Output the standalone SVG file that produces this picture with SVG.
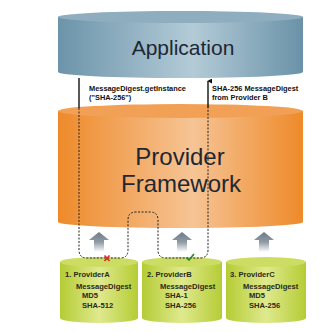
<svg xmlns="http://www.w3.org/2000/svg" width="335" height="332" viewBox="0 0 335 332">
<defs>
<linearGradient id="gBlue" x1="0" y1="0" x2="1" y2="0">
<stop offset="0" stop-color="#6c94aa"/>
<stop offset="0.55" stop-color="#b3cbd7"/>
<stop offset="1" stop-color="#6a92a8"/>
</linearGradient>
<linearGradient id="gOrange" x1="0" y1="0" x2="1" y2="0">
<stop offset="0" stop-color="#ee8a2a"/>
<stop offset="0.55" stop-color="#f6c495"/>
<stop offset="1" stop-color="#ee8a2a"/>
</linearGradient>
<linearGradient id="gGreen" x1="0" y1="0" x2="1" y2="0">
<stop offset="0" stop-color="#b5cc34"/>
<stop offset="0.5" stop-color="#dfe98e"/>
<stop offset="1" stop-color="#b5cc34"/>
</linearGradient>
<linearGradient id="gArrow" x1="0" y1="0" x2="0" y2="1">
<stop offset="0" stop-color="#6e7c88"/>
<stop offset="0.5" stop-color="#8f9aa4"/>
<stop offset="1" stop-color="#ffffff"/>
</linearGradient>
<marker id="ah" viewBox="0 0 6 6" refX="3" refY="1" markerWidth="5" markerHeight="5" orient="auto-start-reverse" markerUnits="userSpaceOnUse">
<path d="M0,6 L3,0 L6,6 Z" fill="#111"/>
</marker>
<path id="arrowUp" d="M-10,8 L0,0 L10,8 L5,8 L5,20 L-5,20 L-5,8 Z" fill="url(#gArrow)"/>
</defs>
<style>
.lbl{font-family:"Liberation Sans",Arial,sans-serif;font-size:7.4px;font-weight:bold;fill:#111}
.big{font-family:"Liberation Sans",Arial,sans-serif;fill:#1e2833;text-anchor:middle}
.pv{font-family:"Liberation Sans",Arial,sans-serif;font-size:7.6px;font-weight:bold;fill:#2a2a18}
.solid{stroke:#111;stroke-width:1.4;fill:none}
.dash{stroke:#222;stroke-width:1;fill:none;stroke-dasharray:2 1.5}
</style>
<rect width="335" height="332" fill="#ffffff"/>

<g id="application">
<path d="M58,17 V72 A122.5,6 0 0 0 303,72 V17 Z" fill="url(#gBlue)"/>
<ellipse cx="180.5" cy="17" rx="122.5" ry="6" fill="#8eaec0"/>
<text class="big" x="183" y="55" font-size="21">Application</text>
</g>

<g id="framework">
<path d="M58,111 V222 A122.5,6 0 0 0 303,222 V111 Z" fill="url(#gOrange)"/>
<ellipse cx="180.5" cy="111" rx="122.5" ry="7" fill="#f2a055"/>
<text class="big" x="180" y="165" font-size="24">Provider</text>
<text class="big" x="181" y="192" font-size="24">Framework</text>
</g>

<g id="providerA">
<path d="M60,262 V318 A39,5 0 0 0 138,318 V262 Z" fill="url(#gGreen)"/>
<ellipse cx="99" cy="262" rx="39" ry="5" fill="#cddd63"/>
<text class="pv" x="65" y="277">1. ProviderA</text>
<text class="pv" x="76" y="289">MessageDigest</text>
<text class="pv" x="82" y="298">MD5</text>
<text class="pv" x="82" y="308">SHA-512</text>
</g>

<g id="providerB">
<path d="M142,262 V318 A40,5 0 0 0 222,318 V262 Z" fill="url(#gGreen)"/>
<ellipse cx="182" cy="262" rx="40" ry="5" fill="#cddd63"/>
<text class="pv" x="147" y="277">2. ProviderB</text>
<text class="pv" x="160" y="289">MessageDigest</text>
<text class="pv" x="165" y="298">SHA-1</text>
<text class="pv" x="165" y="308">SHA-256</text>
</g>

<g id="providerC">
<path d="M226,262 V318 A40,5 0 0 0 306,318 V262 Z" fill="url(#gGreen)"/>
<ellipse cx="266" cy="262" rx="40" ry="5" fill="#cddd63"/>
<text class="pv" x="230" y="277">3. ProviderC</text>
<text class="pv" x="243" y="289">MessageDigest</text>
<text class="pv" x="249" y="298">MD5</text>
<text class="pv" x="249" y="308">SHA-256</text>
</g>

<g id="connectors">
<use href="#arrowUp" x="99" y="232"/>
<use href="#arrowUp" x="182" y="232"/>
<use href="#arrowUp" x="264" y="232"/>
<line class="solid" x1="79" y1="78" x2="79" y2="108"/>
<line class="solid" x1="208" y1="108" x2="208" y2="81" marker-end="url(#ah)"/>
<path class="dash" d="M79,108 V250 Q79,258 87,258 H120 Q128,258 128,250 V220 Q128,212 136,212 H150 Q158,212 158,220 V250 Q158,258 166,258 H200 Q208,258 208,250 V108"/>
<text class="lbl" x="89" y="91">MessageDigest.getInstance</text>
<text class="lbl" x="89" y="100">("SHA-256")</text>
<text class="lbl" x="212" y="91">SHA-256 MessageDigest</text>
<text class="lbl" x="212" y="100">from Provider B</text>
<path d="M104.5,255.5 L109.5,261 M109.5,255.5 L104.5,261" stroke="#e0261c" stroke-width="1.6"/>
<path d="M186.5,257.5 L189,260 L194,254" stroke="#2f8a2a" stroke-width="1.8" fill="none"/>
</g>
</svg>
